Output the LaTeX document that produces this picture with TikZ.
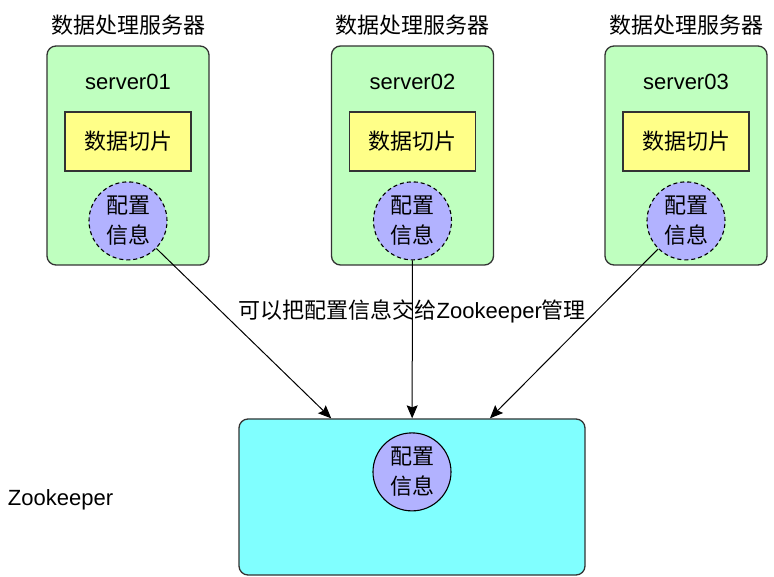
\documentclass[tikz,border=0pt]{standalone}
\usepackage{fontspec}
\setmainfont{Liberation Sans}
\newfontfamily\cjk{Noto Sans CJK SC}
\usepackage{tikz}
\usetikzlibrary{arrows.meta,positioning}
\definecolor{srvgreen}{RGB}{191,255,191}
\definecolor{sliceyellow}{RGB}{255,255,136}
\definecolor{cfgblue}{RGB}{178,178,255}
\definecolor{zkcyan}{RGB}{128,255,255}
\definecolor{linegray}{RGB}{51,51,51}

\begin{document}
\begin{tikzpicture}[
  x=1pt, y=1pt,
  font=\fontsize{22}{30}\selectfont,
  cjkfont/.style={font=\fontsize{22}{30}\selectfont\cjk},
  srv/.style={rectangle, rounded corners=9pt, draw=linegray, line width=1.3pt, fill=srvgreen, minimum width=162pt, minimum height=219pt},
  slice/.style={rectangle, draw=linegray, line width=1.3pt, fill=sliceyellow, minimum width=126pt, minimum height=59pt, cjkfont},
  cfg/.style={circle, draw=black, dash pattern=on 4pt off 3pt, line width=1.1pt, fill=cfgblue, minimum size=78pt, inner sep=0pt, align=center, cjkfont},
  zkbox/.style={rectangle, rounded corners=9pt, draw=linegray, line width=1.3pt, fill=zkcyan, minimum width=346pt, minimum height=156pt},
  txt/.style={inner sep=0pt},
  edge/.style={black, line width=1pt, -{Stealth[length=13pt, width=11pt, inset=2pt]}}
]
\useasboundingbox (0,0) rectangle (774,576);

% data servers
\node[srv] (sv1) at (128,420.5) {};
\node[srv] (sv2) at (412.5,420.5) {};
\node[srv] (sv3) at (686,420.5) {};

\node[txt, cjkfont, above=10pt of sv1] (sv1t) {数据处理服务器};
\node[txt, cjkfont, above=10pt of sv2] (sv2t) {数据处理服务器};
\node[txt, cjkfont, above=10pt of sv3] (sv3t) {数据处理服务器};

\node[txt, below=29pt of sv1.north] (sv1n) {server01};
\node[txt, below=29pt of sv2.north] (sv2n) {server02};
\node[txt, below=29pt of sv3.north] (sv3n) {server03};

\node[slice, below=66pt of sv1.north] (sv1d) {数据切片};
\node[slice, below=66pt of sv2.north] (sv2d) {数据切片};
\node[slice, below=66pt of sv3.north] (sv3d) {数据切片};

\node[cfg, below=136pt of sv1.north] (sv1c) {配置\\信息};
\node[cfg, below=136pt of sv2.north] (sv2c) {配置\\信息};
\node[cfg, below=136pt of sv3.north] (sv3c) {配置\\信息};

% zookeeper
\node[zkbox] (zk) at (412,79) {};
\node[cfg, solid, below=14pt of zk.north] (zkc) {配置\\信息};
\node[txt, left=125pt of zk, yshift=-3pt] (zkt) {Zookeeper};

\draw[edge] (sv1c) -- (zk);
\draw[edge] (sv2c) -- node[txt, pos=0.32] (hand) {{\cjk 可以把配置信息交给}Zookeeper{\cjk 管理}} (zk);
\draw[edge] (sv3c) -- (zk);
\end{tikzpicture}
\end{document}
